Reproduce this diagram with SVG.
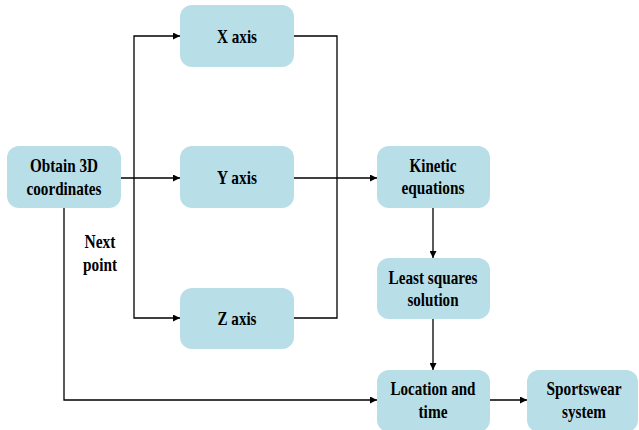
<svg xmlns="http://www.w3.org/2000/svg" width="639" height="430" viewBox="0 0 639 430">
  <defs>
    <style>
      .box { fill: #b8dee8; }
      .lbl { font-family: "Liberation Serif", "Times New Roman", serif; font-weight: bold; font-size: 19px; fill: #000; text-anchor: middle; }
      .wire { fill: none; stroke: #000; stroke-width: 1.3; }
    </style>
    <marker id="arrow" viewBox="0 0 10 10" refX="10" refY="5" markerWidth="8" markerHeight="7" markerUnits="userSpaceOnUse" orient="auto">
      <path d="M0,0 L10,5 L0,10 z" fill="#000"/>
    </marker>
  </defs>
  <rect width="639" height="430" fill="#fff"/>

  <!-- connectors -->
  <g id="connectors">
    <path class="wire" d="M121,178 H180" marker-end="url(#arrow)"/>
    <path class="wire" d="M134,178 V36 H180" marker-end="url(#arrow)"/>
    <path class="wire" d="M134,178 V318 H180" marker-end="url(#arrow)"/>
    <path class="wire" d="M294,36 H337 V318 H294"/>
    <path class="wire" d="M294,178 H377" marker-end="url(#arrow)"/>
    <path class="wire" d="M433,208 V258" marker-end="url(#arrow)"/>
    <path class="wire" d="M433,319 V370" marker-end="url(#arrow)"/>
    <path class="wire" d="M64,208 V400 H377" marker-end="url(#arrow)"/>
    <path class="wire" d="M490,400 H527" marker-end="url(#arrow)"/>
  </g>

  <g id="obtain">
    <rect class="box" x="7" y="146" width="114" height="62" rx="12"/>
    <text class="lbl" x="64" y="172" textLength="68" lengthAdjust="spacingAndGlyphs">Obtain 3D</text>
    <text class="lbl" x="64" y="195" textLength="75" lengthAdjust="spacingAndGlyphs">coordinates</text>
  </g>
  <g id="xaxis">
    <rect class="box" x="180" y="5" width="114" height="62" rx="12"/>
    <text class="lbl" x="237" y="43" textLength="40" lengthAdjust="spacingAndGlyphs">X axis</text>
  </g>
  <g id="yaxis">
    <rect class="box" x="180" y="146" width="114" height="62" rx="12"/>
    <text class="lbl" x="237" y="184" textLength="40" lengthAdjust="spacingAndGlyphs">Y axis</text>
  </g>
  <g id="zaxis">
    <rect class="box" x="180" y="288" width="114" height="61" rx="12"/>
    <text class="lbl" x="237" y="325" textLength="39" lengthAdjust="spacingAndGlyphs">Z axis</text>
  </g>
  <g id="kinetic">
    <rect class="box" x="377" y="146" width="113" height="62" rx="12"/>
    <text class="lbl" x="433" y="172" textLength="47" lengthAdjust="spacingAndGlyphs">Kinetic</text>
    <text class="lbl" x="433" y="194" textLength="63" lengthAdjust="spacingAndGlyphs">equations</text>
  </g>
  <g id="leastsquares">
    <rect class="box" x="377" y="258" width="113" height="61" rx="12"/>
    <text class="lbl" x="433" y="284" textLength="89" lengthAdjust="spacingAndGlyphs">Least squares</text>
    <text class="lbl" x="433" y="306" textLength="51" lengthAdjust="spacingAndGlyphs">solution</text>
  </g>
  <g id="location">
    <rect class="box" x="377" y="370" width="113" height="62" rx="12"/>
    <text class="lbl" x="433" y="395" textLength="85" lengthAdjust="spacingAndGlyphs">Location and</text>
    <text class="lbl" x="433" y="418" textLength="29" lengthAdjust="spacingAndGlyphs">time</text>
  </g>
  <g id="sportswear">
    <rect class="box" x="527" y="370" width="111" height="62" rx="12"/>
    <text class="lbl" x="584" y="395" textLength="75" lengthAdjust="spacingAndGlyphs">Sportswear</text>
    <text class="lbl" x="584" y="418" textLength="44" lengthAdjust="spacingAndGlyphs">system</text>
  </g>

  <g id="nextpoint">
    <text class="lbl" x="100" y="248" textLength="31" lengthAdjust="spacingAndGlyphs">Next</text>
    <text class="lbl" x="100" y="271" textLength="34" lengthAdjust="spacingAndGlyphs">point</text>
  </g>
</svg>
